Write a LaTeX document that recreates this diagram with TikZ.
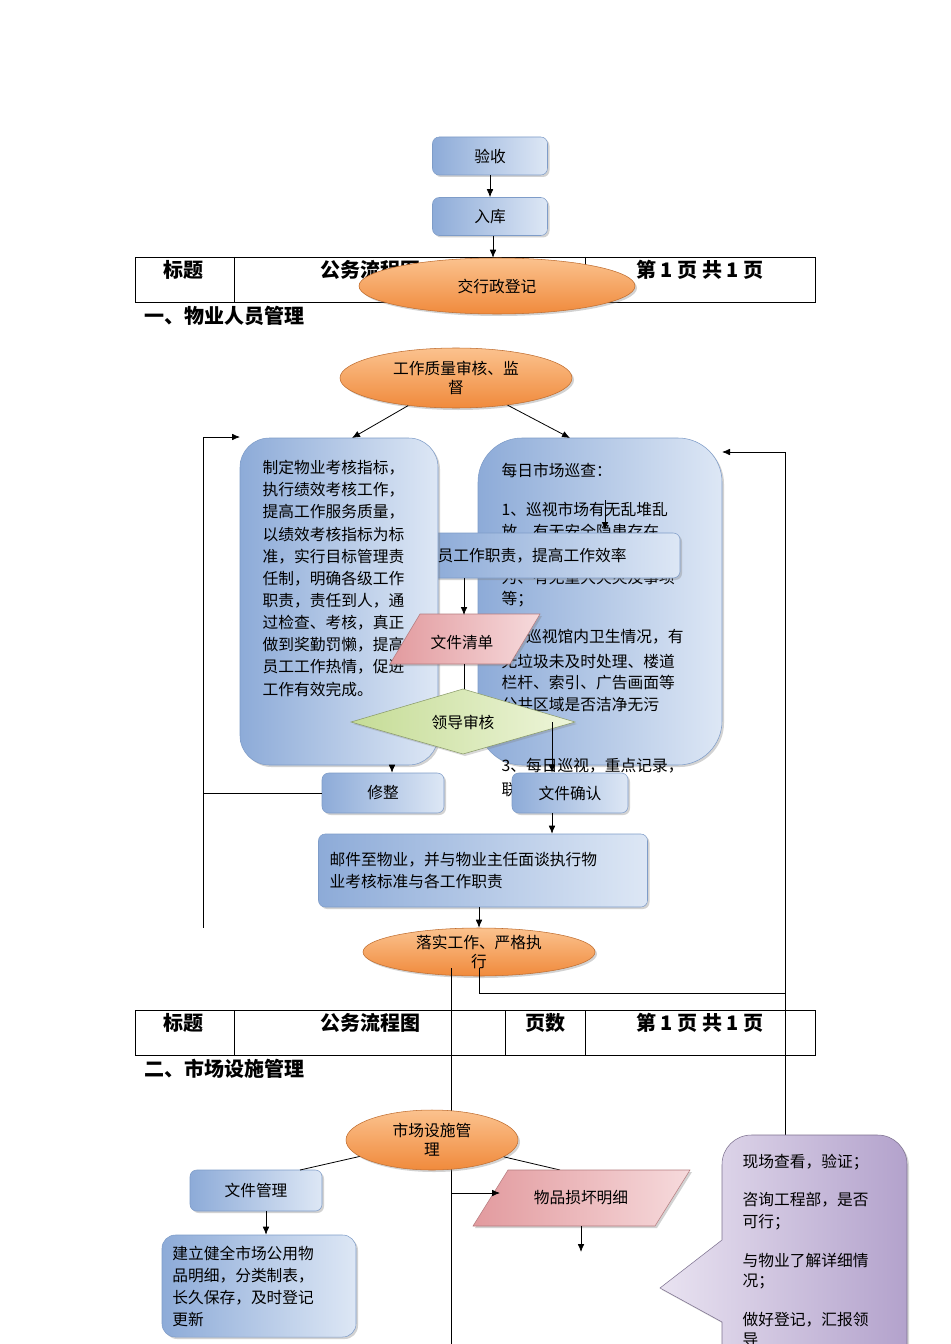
\documentclass[tikz,border=0pt]{standalone}
\usepackage{fontspec}
\setmainfont{Noto Sans CJK SC}
\usetikzlibrary{shapes.geometric,arrows.meta,shadows}
\definecolor{bA}{HTML}{8DABD8}
\definecolor{bB}{HTML}{DDE7F5}
\definecolor{oA}{HTML}{F08A3C}
\definecolor{oB}{HTML}{FBC28E}
\definecolor{pA}{HTML}{E29A9E}
\definecolor{pB}{HTML}{F6DADC}
\definecolor{gA}{HTML}{C5DC96}
\definecolor{gB}{HTML}{EEF5DA}
\definecolor{vA}{HTML}{B3A2CC}
\definecolor{vB}{HTML}{E9E3F1}
\definecolor{edgeB}{HTML}{7E9CC8}
\tikzset{
 txt/.style={font=\fontsize{11.8}{14}\selectfont},
 bbox/.style={draw=edgeB,left color=bA,right color=bB,rounded corners=5pt,drop shadow={opacity=0.35,shadow xshift=1.5pt,shadow yshift=-1.5pt},txt,inner sep=2pt},
 oell/.style={ellipse,draw=oA!80!black,top color=oB,bottom color=oA,drop shadow={opacity=0.35,shadow xshift=1.5pt,shadow yshift=-1.5pt},txt,align=center,inner sep=0pt},
 pink/.style={draw=pA!80!black,left color=pA,right color=pB,drop shadow={opacity=0.35,shadow xshift=1.5pt,shadow yshift=-1.5pt}},
 arr/.style={-{Latex[length=6pt,width=5pt]},black,line width=0.6pt},
 ln/.style={black,line width=0.6pt},
 hd/.style={font=\fontsize{15}{17}\selectfont\bfseries,anchor=west},
 ptxt/.style={txt,anchor=west},
}
\begin{document}
\begin{tikzpicture}[x=0.75pt,y=-0.75pt]
\useasboundingbox (0,0) rectangle (950,1344);
\fill[white] (0,0) rectangle (950,1344);
% table 1
\draw[ln] (135,257) rectangle (815,302);
\draw[ln] (234,257) -- (234,302) (585,257) -- (585,302);
\node[hd,anchor=center] (t1a) at (183,270) {标题};
\node[hd,anchor=center] (t1b) at (370,270) {公务流程图};
\node[hd,anchor=center] (t1c) at (700,270) {第 1 页 共 1 页};
\node[hd] (h1) at (140,316) {一、物业人员管理};
% top
\node[bbox,minimum width=86.25pt,minimum height=28.5pt] (ys) at (490,156) {验收};
\node[bbox,minimum width=86.25pt,minimum height=28.5pt] (rk) at (490,216.5) {入库};
\node[oell,minimum width=207pt,minimum height=42pt] (jx) at (497,286) {交行政登记};
\draw[arr] (ys) -- (rk);
\draw[arr] (rk.south -| 493,0) -- (jx.north -| 493,0);
% quality
\node[oell,minimum width=174pt,minimum height=45pt] (zl) at (456,378) {工作质量审核、监\\督};
% right box
\node[bbox,rounded corners=33pt,minimum width=183pt,minimum height=245.25pt] (rb) at (600,601.5) {};
\node[ptxt] at (497,470) {每日市场巡查：};
\node[ptxt] at (497,509) {1、巡视市场有无乱堆乱};
\node[ptxt] at (497,531) {放、有无安全隐患存在、};
\node[ptxt] at (497,555) {有无违规经营行};
\node[ptxt] at (497,577) {为、有无重大火灾及事项};
\node[ptxt] at (497,599) {等；};
\node[ptxt] at (497,637) {2、巡视馆内卫生情况，有};
\node[ptxt] at (497,661) {无垃圾未及时处理、楼道};
\node[ptxt] at (497,683) {栏杆、索引、广告画面等};
\node[ptxt] at (497,705) {公共区域是否洁净无污};
\node[ptxt] at (497,766) {3、每日巡视，重点记录，};
\node[ptxt] at (497,790) {联};
\draw[arr] (605,500) -- (605,530);
% middle box
\node[bbox,minimum width=187.5pt,minimum height=33.75pt,anchor=center] (zz) at (555,555.5) {};
% left box
\node[bbox,rounded corners=22pt,minimum width=148.5pt,minimum height=245.25pt] (lb) at (339,601.5) {};
\node[txt,anchor=west] at (433,555.5) {员工作职责，提高工作效率};
\foreach \t [count=\i] in {制定物业考核指标，,执行绩效考核工作，,提高工作服务质量，,以绩效考核指标为标,准，实行目标管理责,任制，明确各级工作,职责，责任到人，通,过检查、考核，真正,做到奖勤罚懒，提高,员工工作热情，促进,工作有效完成。}
  \node[ptxt] at (258,{468+(\i-1)*22.1}) {\t};
\draw[arr] (zl) -- (352,438);
\draw[arr] (zl) -- (570,438);
% file list
\coordinate (wq) at (462,642);
\draw[pink] (390,664) -- (420,614) -- (540,614) -- (510,664) -- cycle;
\node[txt] (wqt) at (wq) {文件清单};
\draw[arr] (464,578) -- (464,615);
% diamond
\draw[draw=gA!70!black,left color=gA,right color=gB,drop shadow={opacity=0.3,shadow xshift=1.5pt,shadow yshift=-1.5pt}] (351,722) -- (463,689) -- (575,722) -- (463,754) -- cycle;
\node[txt] (ld) at (463,722) {领导审核};
\draw[ln] (464,664) -- (464,689);
% fix & confirm
\node[bbox,minimum width=91.5pt,minimum height=30pt] (xz) at (383,793) {修整};
\node[bbox,minimum width=87pt,minimum height=30pt] (qr) at (570,793) {文件确认};
\draw[arr] (392,765) -- (xz.north -| 392,0);
\draw[arr] (552,722) -- (qr.north -| 552,0);
\coordinate (lt) at (203,437);
\draw[arr] (xz.west) -- (xz.west -| lt) -- (lt) -- (240,437);
\draw[ln] (xz.west -| lt) -- (203,928);
% mail
\node[bbox,minimum width=246.75pt,minimum height=54.75pt,align=left,text width=230pt,font=\fontsize{11.8}{17}\selectfont] (yj) at (483,870.5) {邮件至物业，并与物业主任面谈执行物\\业考核标准与各工作职责};
\draw[arr] (qr.south -| 552,0) -- (yj.north -| 552,0);
\node[oell,minimum width=174pt,minimum height=36pt] (ls) at (479,952) {落实工作、严格执\\行};
\draw[arr] (yj.south -| 479,0) -- (ls.north -| 479,0);
\coordinate (rc) at (785,993);
\draw[arr] (479,968) -- (479,993) -- (rc) -- (785,452) -- (722,452);
\draw[ln] (rc) -- (785,1135);
\draw[ln] (451,968) -- (451,1344);
% table 2
\draw[ln] (135,1010) rectangle (815,1055);
\draw[ln] (234,1010) -- (234,1055) (505,1010) -- (505,1055) (585,1010) -- (585,1055);
\node[hd,anchor=center] (t2a) at (183,1023) {标题};
\node[hd,anchor=center] (t2b) at (370,1023) {公务流程图};
\node[hd,anchor=center] (t2c) at (545,1023) {页数};
\node[hd,anchor=center] (t2d) at (700,1023) {第 1 页 共 1 页};
\node[hd] (h2) at (140,1069) {二、市场设施管理};
% section 2
\node[oell,minimum width=129pt,minimum height=45pt] (sc) at (432,1140) {市场设施管\\理};
\node[bbox,minimum width=99pt,minimum height=30.75pt] (wg) at (256,1190.5) {文件管理};
\node[bbox,rounded corners=10pt,minimum width=145.5pt,minimum height=76.5pt,align=left,text width=130pt,font=\fontsize{11.8}{16.5}\selectfont] (jl) at (259,1286) {建立健全市场公用物\\品明细，分类制表，\\长久保存，及时登记\\更新};
\draw[ln] (sc) -- (300,1170);
\draw[ln] (sc) -- (560,1170);
\draw[arr] (wg.south -| 266,0) -- (jl.north -| 266,0);
\draw[pink] (473,1226) -- (508,1170) -- (690,1170) -- (655,1226) -- cycle;
\node[txt] (wp) at (581,1198) {物品损坏明细};
\draw[arr] (451,1193) -- (500,1193);
\draw[arr] (581,1226) -- (581,1252);
% callout
\draw[draw=vA!70!black,left color=vB,right color=vA,drop shadow={opacity=0.3,shadow xshift=1.5pt,shadow yshift=-1.5pt}]
 (722,1240) -- (660,1288) -- (722,1322) [rounded corners=22pt] -- (722,1400) -- (907,1400) -- (907,1135) -- (722,1135) [sharp corners] -- cycle;
\node[ptxt] (c1) at (738,1162) {现场查看，验证；};
\node[ptxt] at (738,1200) {咨询工程部，是否};
\node[ptxt] at (738,1222) {可行；};
\node[ptxt] at (738,1260) {与物业了解详细情};
\node[ptxt] at (738,1282) {况；};
\node[ptxt] at (738,1320) {做好登记，汇报领};
\node[ptxt] at (738,1340) {导};
\end{tikzpicture}
\end{document}
